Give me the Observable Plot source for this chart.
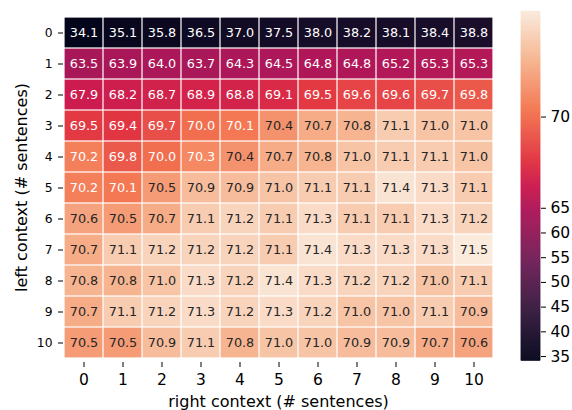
<!DOCTYPE html>
<html><head><meta charset="utf-8">
<script src="https://cdn.jsdelivr.net/npm/d3@7"></script>
<script src="https://cdn.jsdelivr.net/npm/@observablehq/plot@0.6"></script>
<style>
body{margin:0;background:#fff;}
#chart{position:relative;width:572px;height:410px;font-family:"DejaVu Sans",sans-serif;}
#chart svg{position:absolute;top:0;}
</style></head><body><div id="chart"></div>
<script>
// ---- data ----
const leftContext = [0,1,2,3,4,5,6,7,8,9,10];
const rightContext = [0,1,2,3,4,5,6,7,8,9,10];
const row0  = [34.1,35.1,35.8,36.5,37.0,37.5,38.0,38.2,38.1,38.4,38.8];
const row1  = [63.5,63.9,64.0,63.7,64.3,64.5,64.8,64.8,65.2,65.3,65.3];
const row2  = [67.9,68.2,68.7,68.9,68.8,69.1,69.5,69.6,69.6,69.7,69.8];
const row3  = [69.5,69.4,69.7,70.0,70.1,70.4,70.7,70.8,71.1,71.0,71.0];
const row4  = [70.2,69.8,70.0,70.3,70.4,70.7,70.8,71.0,71.1,71.1,71.0];
const row5  = [70.2,70.1,70.5,70.9,70.9,71.0,71.1,71.1,71.4,71.3,71.1];
const row6  = [70.6,70.5,70.7,71.1,71.2,71.1,71.3,71.1,71.1,71.3,71.2];
const row7  = [70.7,71.1,71.2,71.2,71.2,71.1,71.4,71.3,71.3,71.3,71.5];
const row8  = [70.8,70.8,71.0,71.3,71.2,71.4,71.3,71.2,71.2,71.0,71.1];
const row9  = [70.7,71.1,71.2,71.3,71.2,71.3,71.2,71.0,71.0,71.1,70.9];
const row10 = [70.5,70.5,70.9,71.1,70.8,71.0,71.0,70.9,70.9,70.7,70.6];
const rows = [row0,row1,row2,row3,row4,row5,row6,row7,row8,row9,row10];
const colorbarTicks = [35,40,45,50,55,60,65,70];

// colour normalisation and rocket colormap anchors
const normDomain = [34.1, 65, 67.9, 68.9, 69.5, 70, 71.5];
const normRange  = [0, 0.437, 0.50, 0.525, 0.585, 0.698, 1];
const rocketStops  = [0, 1/7, 2/7, 3/7, 0.5, 4/7, 5/7, 6/7, 1];
const rocketColors = ["#03051a","#35193e","#701f57","#ad1759","#cb1b4f","#e13342","#f37651","#f6b48f","#faebdd"];

const rocketScale = d3.scaleLinear().domain(rocketStops).range(rocketColors).interpolate(d3.interpolateRgb);
const rocket = t => rocketScale(t);
const colorOpts = {type: "linear", domain: normDomain, range: normRange, interpolate: rocket};

const cells = [];
leftContext.forEach((l, i) => rightContext.forEach((r, j) => cells.push({l, r, v: rows[i][j]})));
const cs = Plot.scale({color: colorOpts});
const lin = x => { x /= 255; return x <= 0.03928 ? x / 12.92 : Math.pow((x + 0.055) / 1.055, 2.4); };
const lum = c => { const k = d3.rgb(c); return 0.2126*lin(k.r) + 0.7152*lin(k.g) + 0.0722*lin(k.b); };
cells.forEach(d => d.tc = lum(cs.apply(d.v)) > 0.408 ? "#262626" : "#ffffff");

const font = "DejaVu Sans";
const heat = Plot.plot({
  width: 515, height: 410,
  marginLeft: 63, marginRight: 22, marginTop: 12, marginBottom: 48,
  style: {fontFamily: font, background: "transparent", color: "#000"},
  x: {type: "band", domain: rightContext, padding: 0},
  y: {type: "band", domain: leftContext, padding: 0},
  color: colorOpts,
  marks: [
    Plot.cell(cells, {x: "r", y: "l", fill: "v", inset: 0.6}),
    Plot.text(cells, {x: "r", y: "l", text: d => d.v.toFixed(1), fill: "tc", fontSize: 12.8}),
    Plot.axisX({tickSize: 5, tickPadding: 6.5, fontSize: 15.5, label: null}),
    Plot.axisY({tickSize: 5, tickPadding: 6, fontSize: 12.3, label: null}),
    Plot.text(["right context (# sentences)"], {frameAnchor: "bottom", textAnchor: "middle", lineAnchor: "middle", dy: 39, fontSize: 16, fill: "#000"}),
    Plot.text(["left context (# sentences)"], {frameAnchor: "left", textAnchor: "middle", lineAnchor: "middle", rotate: -90, dx: -42, fontSize: 16, fill: "#000"})
  ]
});
heat.style.left = "0px";

const inv = d3.scaleLinear().domain(normRange).range(normDomain);
const N = 350;
const bands = d3.range(N).map(i => ({v0: inv(i / N), v1: inv((i + 1) / N)}));
const barTop = 11, barBottom = 360.5;
const cbar = Plot.plot({
  width: 57, height: 410,
  marginLeft: 6, marginRight: 32, marginTop: barTop, marginBottom: 410 - barBottom,
  style: {fontFamily: font, background: "transparent", color: "#000"},
  x: {axis: null, domain: [0, 1]},
  y: {type: "linear", domain: normDomain, range: normRange.map(t => barBottom - t * (barBottom - barTop))},
  color: colorOpts,
  marks: [
    Plot.rect(bands, {x1: 0, x2: 1, y1: "v0", y2: "v1", fill: d => (d.v0 + d.v1) / 2, stroke: d => (d.v0 + d.v1) / 2, strokeWidth: 0.6}),
    Plot.axisY({anchor: "right", ticks: colorbarTicks, tickSize: 5, tickPadding: 5, fontSize: 15.5, label: null})
  ]
});
cbar.style.left = "515px";

const el = document.getElementById("chart");
el.appendChild(heat);
el.appendChild(cbar);
</script></body></html>
